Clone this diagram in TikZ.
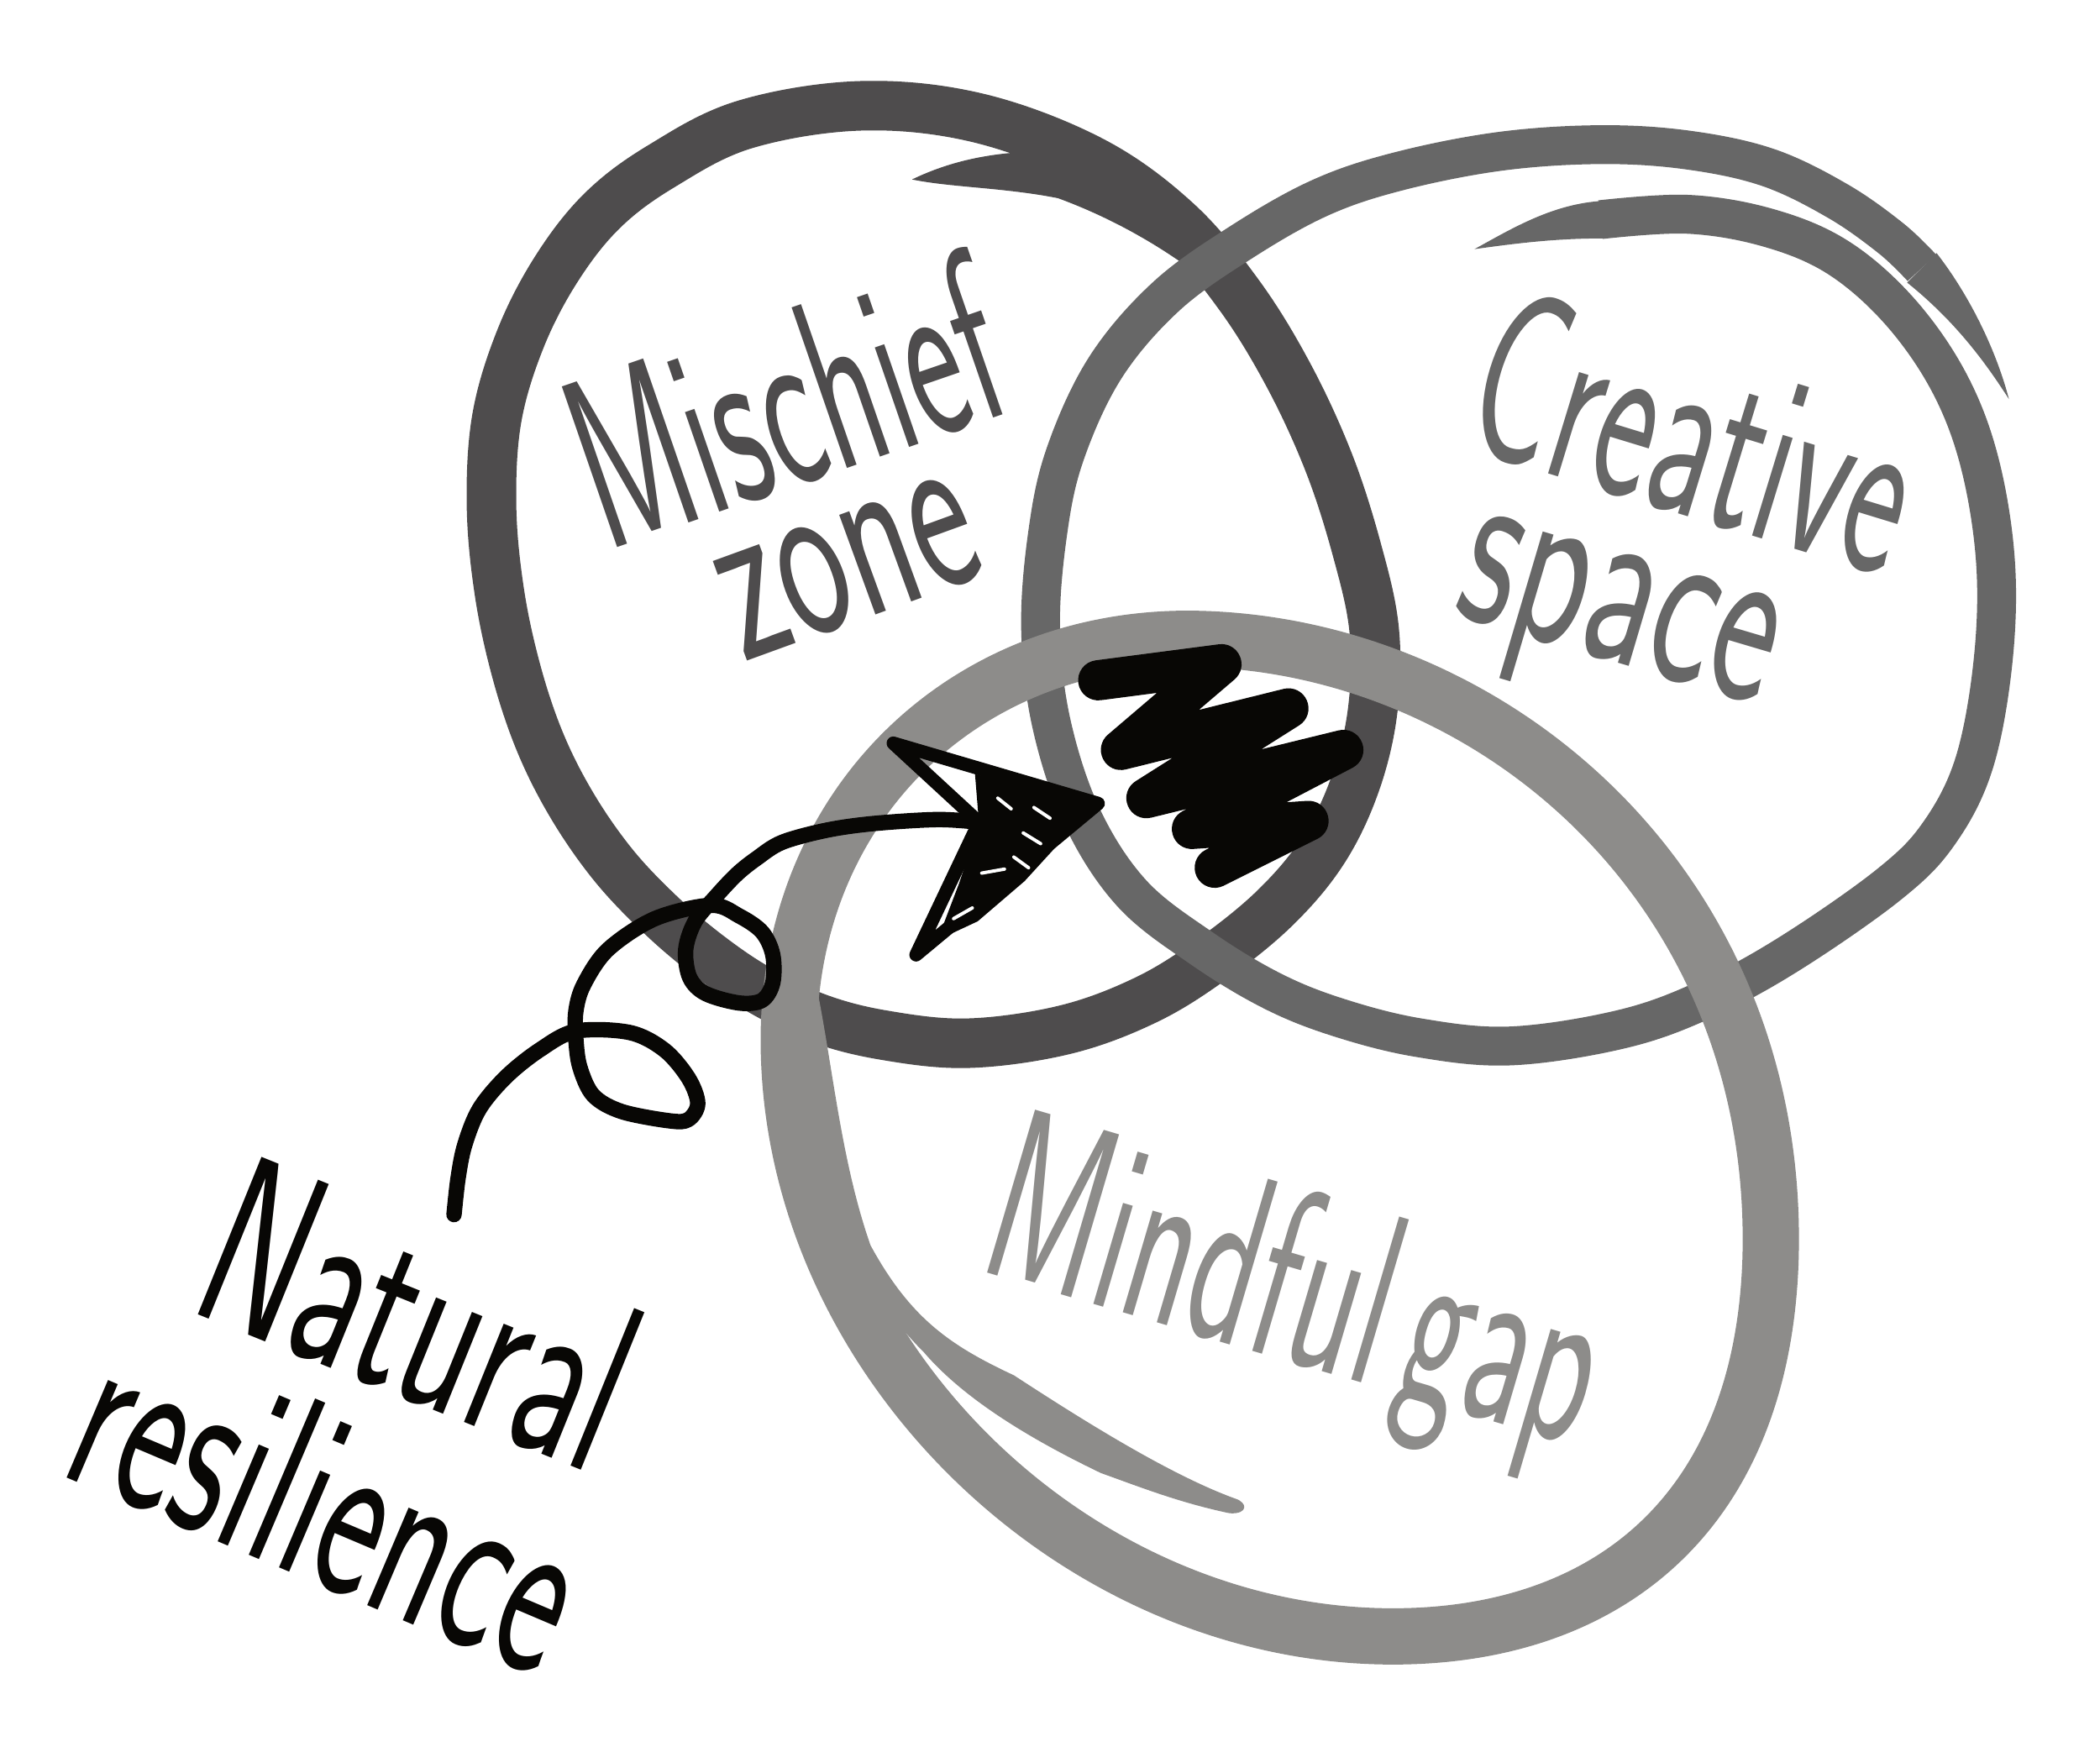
\documentclass[tikz,border=0pt]{standalone}
\usepackage{fontspec}
\usepackage{graphicx}
\definecolor{mis}{HTML}{4E4C4D}
\definecolor{cre}{HTML}{676767}
\definecolor{mnd}{HTML}{8D8C8A}
\definecolor{blk}{HTML}{080705}
\newcommand{\hw}[2]{\scalebox{#1}[1]{#2}}
\begin{document}
\begin{tikzpicture}[x=0.1mm,y=-0.1mm,
  misring/.style={draw=mis, line width=3.7mm, line join=round},
  crering/.style={draw=cre, line width=2.9mm, line join=round},
  mndring/.style={draw=mnd, line width=4.2mm, line join=round},
  pen/.style={draw=blk, line width=1.15mm, line cap=round, line join=round},
  word/.style={anchor=base west, inner sep=0pt, font=\sffamily\fontsize{52}{52}\selectfont}]
\useasboundingbox (0,0) rectangle (1568,1308);
\fill[white] (0,0) rectangle (1568,1308);

% ---- Mischief zone ring (dark)
\draw[misring] plot[smooth cycle, tension=0.6] coordinates {
 (643,79) (730,88) (815,120) (878,165) (925,220) (962,280) (992,345) (1013,410)
 (1026,470) (1025,530) (1012,585) (988,635) (952,678) (904,717) (855,747) (795,769)
 (723,779) (660,773) (610,760) (565,738) (527,712) (492,682) (458,646) (428,603)
 (404,556) (386,503) (373,443) (367,378) (371,312) (389,252) (416,200) (450,157)
 (494,124) (556,93)};
\fill[mis] (681,134) .. controls (710,120) and (740,114) .. (775,113) -- (860,145)
  -- (935,240) .. controls (900,205) and (850,170) .. (790,148)
  .. controls (750,140) and (710,140) .. (681,134) -- cycle;
\fill[mis] (410,520) .. controls (425,570) and (440,600) .. (470,640)
  -- (455,650) .. controls (425,610) and (405,570) .. (392,520) -- cycle;

% ---- Creative space ring (medium)
\draw[crering] plot[smooth, tension=0.6] coordinates {
 (1195,164) (1260,160) (1320,170) (1372,192) (1418,232) (1455,285) (1478,345)
 (1490,420) (1488,495) (1474,570) (1448,622) (1411,660) (1338,711) (1276,745)
 (1213,768) (1129,781) (1060,775) (1000,760) (950,740) (897,708) (845,667)
 (808,610) (785,540) (777,470) (782,400) (795,340) (825,275) (870,222) (925,182)
 (985,148) (1044,128) (1120,113) (1195,108) (1260,112) (1320,125) (1372,150)
 (1412,178) (1435,200)};
\fill[cre] (1101,186) .. controls (1130,170) and (1160,152) .. (1197,150)
  -- (1197,178) .. controls (1160,178) and (1130,182) .. (1101,186) -- cycle;
\fill[cre] (1446,189) .. controls (1470,220) and (1490,260) .. (1500,298)
  .. controls (1482,270) and (1460,240) .. (1424,211) -- cycle;

% ---- Mindful gap ring (light)
\draw[mndring] (887,477) .. controls (1110,478) and (1330,660) .. (1322,940)
  .. controls (1316,1130) and (1200,1222) .. (1040,1222)
  .. controls (800,1222) and (585,1010) .. (589,770)
  .. controls (592,600) and (720,477) .. (887,477) -- cycle;
\fill[mnd] (598,690) .. controls (620,760) and (622,850) .. (650,930)
  .. controls (680,985) and (710,1005) .. (757,1027)
  .. controls (800,1055) and (870,1100) .. (922,1119)
  .. controls (932,1122) and (932,1131) .. (918,1130)
  .. controls (880,1122) and (850,1110) .. (822,1100)
  .. controls (770,1075) and (720,1045) .. (690,1010)
  .. controls (665,985) and (640,950) .. (620,900) -- (590,690) -- cycle;

% ---- black scribble in the centre
\draw[blk, line width=3.0mm, line cap=round, line join=round]
  (820,508) -- (912,496) -- (837,560) -- (962,529) -- (856,596)
  -- (1003,560) -- (890,619) -- (977,613) -- (907,648);

% ---- looping line with arrowhead
\coordinate (lineend) at (339,907);
\coordinate (notch) at (731,614);
\draw[pen] plot[smooth, tension=0.55] coordinates {
 (339,907) (342,880) (347,855) (358,828) (378,804) (403,784) (430,770) (470,771)
 (496,784) (514,805) (521,824) (514,836) (500,837) (464,830) (443,818) (433,797)
 (430,776) (430,755) (436,735) (454,709) (489,686) (531,676) (552,684) (569,696)
 (577,713) (577,734) (569,747) (552,749) (527,742) (515,730) (512,709) (519,688)
 (534,670) (550,653) (565,641) (584,629) (617,620) (652,615) (700,612) (731,614)};
\draw[pen, line width=1.0mm] (667,555) -- (820,600) -- (684,713) -- (notch) -- cycle;
\fill[blk] (728,578) -- (818,600) -- (765,658) -- (730,688) -- (700,702)
  -- (716,660) -- (731,615) -- cycle;
\draw[white, line width=0.25mm, line cap=round]
  (772,603) -- (784,611)  (764,622) -- (777,630)  (757,640) -- (768,648)
  (733,652) -- (750,649)  (712,686) -- (726,678)  (745,596) -- (755,604);

% ---- texts
\node[word, text=mis, rotate=19] (t1) at (452,412) {\hw{0.55}{Mischief}};
\node[word, text=mis, rotate=20] (t2) at (555,495) {\hw{0.60}{zone}};
\node[word, text=cre, rotate=-17] (t3) at (1088,333) {\hw{0.57}{Creative}};
\node[word, text=cre, rotate=-16.5] (t4) at (1082,458) {\hw{0.62}{space}};
\node[word, text=mnd, rotate=-16.4] (t5) at (728,948) {\hw{0.56}{\spaceskip=0.15em Mindful gap}};
\node[word, text=blk, rotate=-22] (t6) at (138,978) {\hw{0.61}{Natural}};
\node[word, text=blk, rotate=-23] (t7) at (42,1100) {\hw{0.61}{resilience}};
\end{tikzpicture}
\end{document}
